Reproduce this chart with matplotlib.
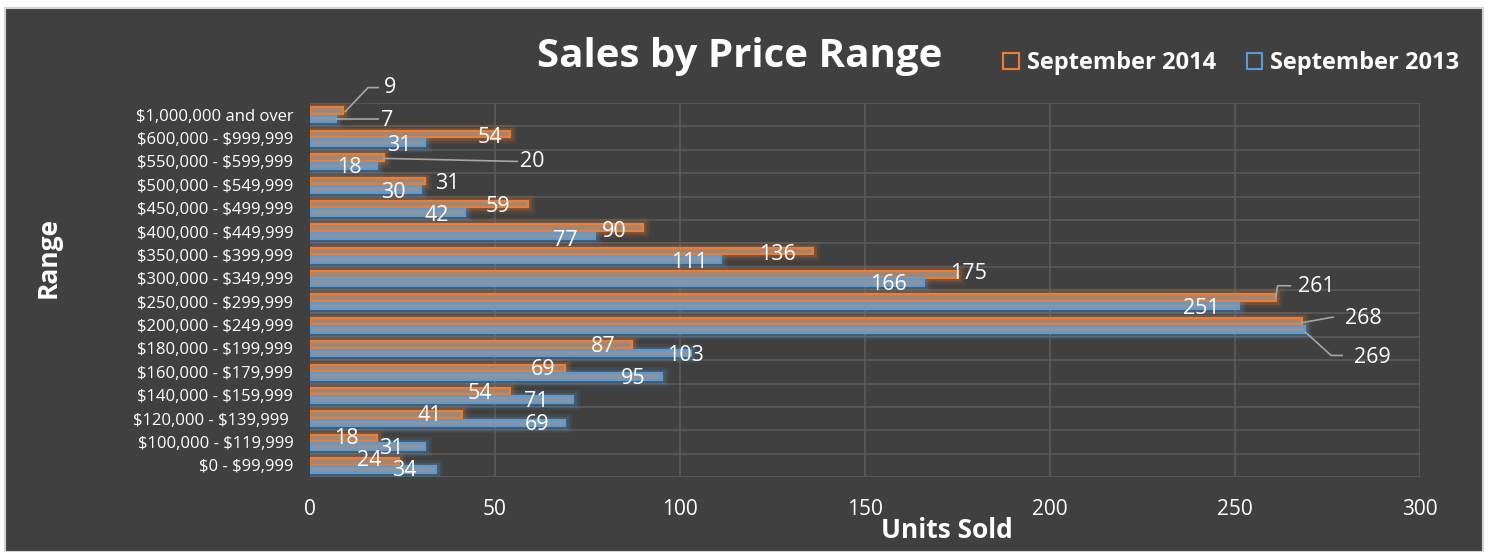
import matplotlib
matplotlib.use("Agg")
from matplotlib import pyplot as plt
from matplotlib.patches import Rectangle, Patch
import numpy as np

# price ranges, top to bottom as in the chart
ranges = ["$1,000,000 and over", "$600,000 - $999,999", "$550,000 - $599,999",
          "$500,000 - $549,999", "$450,000 - $499,999", "$400,000 - $449,999",
          "$350,000 - $399,999", "$300,000 - $349,999", "$250,000 - $299,999",
          "$200,000 - $249,999", "$180,000 - $199,999", "$160,000 - $179,999",
          "$140,000 - $159,999", "$120,000 - $139,999 ", "$100,000 - $119,999",
          "$0 - $99,999"]
sep_2014 = [9, 54, 20, 31, 59, 90, 136, 175, 261, 268, 87, 69, 54, 41, 18, 24]
sep_2013 = [7, 31, 18, 30, 42, 77, 111, 166, 251, 269, 103, 95, 71, 69, 31, 34]
x_ticks = [0, 50, 100, 150, 200, 250, 300]

# where each data label sits relative to its bar end (x in units, y in rows)
off_2014 = [(12.7, -1.16), (-5.4, -0.04), (40, 0.0), (6.2, -0.04), (-8.1, -0.09),
            (-7.8, 0.0), (-9.7, -0.04), (3.1, -0.2), (11, -0.64), (16.8, -0.3),
            (-7.8, -0.09), (-6, -0.09), (-8.1, -0.09), (-8.6, -0.13), (-8.1, -0.13),
            (-8.1, -0.21)]
off_2013 = [(13.8, 0.26), (-6.8, 0.3), (-7.3, 0.26), (-7.6, 0.34), (-7.8, 0.3),
            (-8.1, 0.39), (-8.4, 0.34), (-9.7, 0.26), (-10, 0.3), (18, 1.37),
            (-1.4, 0.3), (-7.7, 0.3), (-9.7, 0.26), (-7.6, 0.26), (-8.9, 0.26),
            (-8.4, 0.21)]

BG = "#404040"
ORANGE = "#ED7D31"
BLUE = "#5B9BD5"
GRID = "#5a5a5a"
plt.rcParams["font.family"] = ["Open Sans", "DejaVu Sans"]
plt.rcParams["text.parse_math"] = False

fig = plt.figure(figsize=(14.88, 5.52), dpi=100)
fig.patch.set_facecolor("white")
fig.patches.append(Rectangle((5 / 1488, 0), 1478 / 1488, 544 / 552,
                             transform=fig.transFigure, facecolor=BG,
                             edgecolor="#d4d4d4", linewidth=1.5, zorder=-10))

ax = fig.add_axes([310 / 1488, 1 - 477 / 552, 1110 / 1488, 374 / 552])
ax.set_facecolor(BG)
ax.patch.set_alpha(0)

y = np.arange(len(ranges))
h = 0.28
y14 = y - 0.17
y13 = y + 0.19

# glow
for w, a in [(9, 0.10), (5, 0.18)]:
    ax.barh(y14, sep_2014, height=h, color="none", edgecolor=ORANGE, linewidth=w, alpha=a, zorder=2)
    ax.barh(y13, sep_2013, height=h, color="none", edgecolor=BLUE, linewidth=w, alpha=a, zorder=2)
ax.barh(y14, sep_2014, height=h, color="#a08676", edgecolor=ORANGE, linewidth=1.6, zorder=3)
ax.barh(y13, sep_2013, height=h, color="#8a94a2", edgecolor=BLUE, linewidth=1.6, zorder=3)

# grid
for v in x_ticks[1:]:
    ax.axvline(v, color=GRID, lw=1.2, zorder=1)
for b in np.arange(-0.5, len(ranges), 1.0):
    ax.axhline(b, color=GRID, lw=1.2, zorder=1)

ax.set_xlim(0, 300)
ax.set_ylim(len(ranges) - 0.5, -0.5)
for s in ax.spines.values():
    s.set_visible(False)
ax.set_yticks(y)
ax.set_yticklabels(ranges, fontsize=12, color="white")
ax.set_xticks(x_ticks)
ax.set_xticklabels([str(t) for t in x_ticks], fontsize=15, color="white")
ax.tick_params(axis="y", length=0, pad=12)
ax.tick_params(axis="x", length=0, pad=16)

# data labels
for i in range(len(ranges)):
    ax.text(sep_2014[i] + off_2014[i][0], y[i] + off_2014[i][1], str(sep_2014[i]),
            ha="center", va="center", color="white", fontsize=15.5, zorder=5)
    ax.text(sep_2013[i] + off_2013[i][0], y[i] + off_2013[i][1], str(sep_2013[i]),
            ha="center", va="center", color="white", fontsize=15.5, zorder=5)

# leader lines
lead = "#a6a6a6"
ax.plot([9.5, 15.7, 18.4], [-0.13, -1.16, -1.16], color=lead, lw=1.2, zorder=4, clip_on=False)
ax.plot([7.3, 18.4], [0.2, 0.2], color=lead, lw=1.2, zorder=4)
ax.plot([20, 56], [1.87, 2.0], color=lead, lw=1.2, zorder=4)
ax.plot([261, 261.5, 265], [7.83, 7.32, 7.32], color=lead, lw=1.2, zorder=4)
ax.plot([268, 276.5], [8.9, 8.66], color=lead, lw=1.2, zorder=4)
ax.plot([269, 276, 279], [9.3, 10.3, 10.3], color=lead, lw=1.2, zorder=4)

fig.text(740 / 1488, 1 - 56 / 552, "Sales by Price Range", ha="center", va="center",
         fontsize=29, fontweight="bold", color="white")
fig.text(48 / 1488, 1 - 257 / 552, "Range", rotation=90, ha="center", va="center",
         fontsize=19, fontweight="bold", color="white")
fig.text(947 / 1488, 1 - 530 / 552, "Units Sold", ha="center", va="center",
         fontsize=19, fontweight="bold", color="white")

handles = [Patch(facecolor="none", edgecolor=ORANGE, linewidth=1.5, label="September 2014"),
           Patch(facecolor="none", edgecolor=BLUE, linewidth=1.5, label="September 2013")]
leg = fig.legend(handles=handles, loc="center left", bbox_to_anchor=(982 / 1488, 1 - 63 / 552),
                 ncol=2, frameon=False, handlelength=0.65, handleheight=0.65,
                 handletextpad=0.35, columnspacing=1.3,
                 prop={"size": 17, "weight": "bold"})
for t in leg.get_texts():
    t.set_color("white")

fig.savefig("out.png", dpi=100, facecolor=fig.get_facecolor())
